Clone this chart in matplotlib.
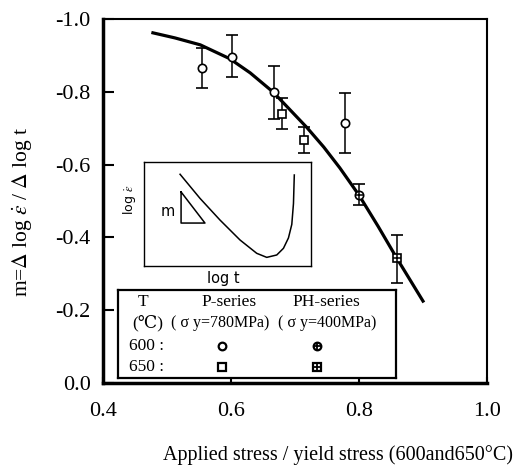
import matplotlib
matplotlib.use("Agg")
import matplotlib.pyplot as plt
import numpy as np

plt.rcParams['font.family'] = ['Liberation Serif', 'DejaVu Serif', 'Noto Sans CJK JP']
plt.rcParams['mathtext.fontset'] = 'stix'

W, H = 518, 473

# fitted curve
curve_x = [0.478, 0.5125, 0.552, 0.598, 0.630, 0.666, 0.719, 0.745, 0.770, 0.800, 0.830, 0.859, 0.900]
curve_y = [-0.962, -0.948, -0.929, -0.891, -0.852, -0.799, -0.701, -0.648, -0.591, -0.516, -0.430, -0.343, -0.225]

# P-series, 600C (open circles)
p600_x = [0.555, 0.602, 0.667, 0.778]
p600_y = [-0.865, -0.896, -0.800, -0.714]
p600_top = [-0.920, -0.951, -0.874, -0.797]
p600_bot = [-0.810, -0.835, -0.728, -0.632]

# P-series, 650C (open squares)
p650_x = [0.680, 0.714]
p650_y = [-0.739, -0.668]
p650_top = [-0.780, -0.703]
p650_bot = [-0.695, -0.632]

# PH-series
ph600_x, ph600_y, ph600_top, ph600_bot = [0.800], [-0.516], [-0.544], [-0.484]
ph650_x, ph650_y, ph650_top, ph650_bot = [0.859], [-0.343], [-0.412], [-0.280]

# schematic inset curve (inset axes fraction)
sk_u = [0.216, 0.335, 0.455, 0.575, 0.675, 0.735, 0.795, 0.835, 0.865, 0.885, 0.895, 0.900]
sk_v = [0.882, 0.651, 0.442, 0.250, 0.122, 0.083, 0.106, 0.170, 0.270, 0.400, 0.600, 0.875]
tri_u = [0.222, 0.222, 0.365, 0.222]
tri_v = [0.712, 0.413, 0.413, 0.712]

xticks = [0.4, 0.6, 0.8, 1.0]
yticks = [-1.0, -0.8, -0.6, -0.4, -0.2, 0.0]


def box(x0, y0, x1, y1):
    # pixel box -> figure fraction rect
    return [x0 / W, 1 - y1 / H, (x1 - x0) / W, (y1 - y0) / H]


def errs(y, top, bot):
    y = np.array(y)
    return [np.abs(np.array(bot) - y), np.abs(y - np.array(top))]


fig = plt.figure(figsize=(W / 100, H / 100), dpi=100)
ax = fig.add_axes(box(103, 19, 487, 383))

ax.plot(curve_x, curve_y, color='black', lw=2.3, zorder=2, solid_joinstyle='round')

ekw = dict(ecolor='black', elinewidth=1.1, capsize=4, capthick=1.1, ls='none', zorder=3)
ax.errorbar(p600_x, p600_y, yerr=errs(p600_y, p600_top, p600_bot), fmt='o', ms=6,
            mfc='white', mec='black', mew=1.2, **ekw)
ax.errorbar(p650_x, p650_y, yerr=errs(p650_y, p650_top, p650_bot), fmt='s', ms=5.5,
            mfc='white', mec='black', mew=1.2, **ekw)
ax.errorbar(ph600_x, ph600_y, yerr=errs(ph600_y, ph600_top, ph600_bot), fmt='o', ms=6,
            mfc='white', mec='black', mew=1.2, **ekw)
ax.plot(ph600_x, ph600_y, '+', ms=6, mew=1.1, color='black', zorder=4)
ax.errorbar(ph650_x, ph650_y, yerr=errs(ph650_y, ph650_top, ph650_bot), fmt='s', ms=5.5,
            mfc='white', mec='black', mew=1.2, **ekw)
ax.plot(ph650_x, ph650_y, '+', ms=5.5, mew=1.1, color='black', zorder=4)

ax.set_xlim(0.4, 1.0)
ax.set_ylim(0.0, -1.0)
ax.set_xticks(xticks)
ax.set_xticklabels([f"{t:.1f}" for t in xticks])
ax.set_yticks(yticks)
ax.set_yticklabels([f"{t:.1f}" if t != 0 else "0.0" for t in yticks])
ax.tick_params(axis='both', direction='in', labelsize=16, width=1.5)
ax.tick_params(axis='y', length=8, pad=9)
ax.tick_params(axis='x', length=4, pad=14)
for s in ['left', 'bottom']:
    ax.spines[s].set_linewidth(2.5)
for s in ['top', 'right']:
    ax.spines[s].set_linewidth(1.5)

fig.text(22 / W, 1 - 212 / H, r'm=$\Delta$ log $\dot{\varepsilon}$ / $\Delta$ log t',
         rotation=90, ha='center', va='center', fontsize=15.5)
fig.text(338 / W, 1 - 455 / H, 'Applied stress / yield stress (600and650°C)',
         ha='center', va='center', fontsize=14.5)

# inset schematic
ins = fig.add_axes(box(144, 162, 311, 266), zorder=5)
ins.set_xlim(0, 1)
ins.set_ylim(0, 1)
ins.set_xticks([])
ins.set_yticks([])
for s in ins.spines.values():
    s.set_linewidth(1.0)
ins.plot(sk_u, sk_v, color='black', lw=1.1)
ins.plot(tri_u, tri_v, color='black', lw=1.1)
ins.text(0.14, 0.52, 'm', ha='center', va='center', fontsize=10.5, family='DejaVu Sans')
fig.text(130 / W, 1 - 200 / H, r'log $\dot{\varepsilon}$', rotation=90, ha='center',
         va='center', fontsize=9, family='DejaVu Sans')
fig.text(223 / W, 1 - 279 / H, 'log t', ha='center', va='center', fontsize=10.5,
         family='DejaVu Sans')

# legend box
lg = fig.add_axes(box(118, 290, 396, 378), zorder=5)
lg.set_xlim(0, 1)
lg.set_ylim(0, 1)
lg.set_xticks([])
lg.set_yticks([])
for s in lg.spines.values():
    s.set_linewidth(1.6)
fs = 12.5
lg.text(0.09, 0.86, 'T', ha='center', va='center', fontsize=fs)
lg.text(0.107, 0.625, '(℃)', ha='center', va='center', fontsize=fs)
lg.text(0.04, 0.36, '600 :', ha='left', va='center', fontsize=fs)
lg.text(0.04, 0.13, '650 :', ha='left', va='center', fontsize=fs)
lg.text(0.40, 0.86, 'P-series', ha='center', va='center', fontsize=fs)
lg.text(0.75, 0.86, 'PH-series', ha='center', va='center', fontsize=fs)
lg.text(0.367, 0.625, '( σ y=780MPa)', ha='center', va='center', fontsize=11.5)
lg.text(0.752, 0.625, '( σ y=400MPa)', ha='center', va='center', fontsize=11.5)
lg.plot([0.374], [0.36], 'o', ms=5.5, mfc='white', mec='black', mew=1.6)
lg.plot([0.374], [0.13], 's', ms=5.5, mfc='white', mec='black', mew=1.6)
lg.plot([0.716], [0.36], 'o', ms=5.5, mfc='white', mec='black', mew=1.6)
lg.plot([0.716], [0.36], '+', ms=5.5, mew=1.3, color='black')
lg.plot([0.716], [0.13], 's', ms=5.5, mfc='white', mec='black', mew=1.6)
lg.plot([0.716], [0.13], '+', ms=5.5, mew=1.3, color='black')

fig.savefig('out.png', dpi=100)
